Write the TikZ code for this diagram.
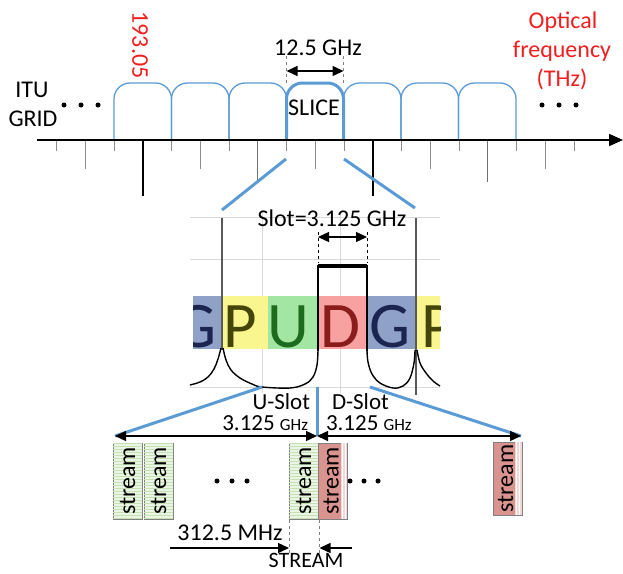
\documentclass[tikz,border=0pt]{standalone}
\usepackage{fontspec}
\setmainfont{Carlito}
\usetikzlibrary{arrows.meta,patterns}
\definecolor{sblue}{HTML}{5B9BD5}
\definecolor{tred}{HTML}{F01E1E}
\definecolor{tickgray}{HTML}{8C8C8C}
\definecolor{gridgray}{HTML}{D9D9D9}
\definecolor{bandG}{HTML}{8FA1C7}
\definecolor{bandP}{HTML}{FAF68F}
\definecolor{bandU}{HTML}{A3E6A3}
\definecolor{bandD}{HTML}{F7A1A1}
\definecolor{letG}{HTML}{1B2550}
\definecolor{letP}{HTML}{45450A}
\definecolor{letU}{HTML}{1D6B1D}
\definecolor{letD}{HTML}{8A1C1C}
\definecolor{gfill}{HTML}{EAF5E4}
\definecolor{gline}{HTML}{C5E0B4}
\definecolor{rfill}{HTML}{D99490}
\definecolor{rstrip}{HTML}{F2D8D6}
\begin{document}
\begin{tikzpicture}[x=1pt,y=-1pt,
  font=\fontsize{24}{29}\selectfont,
  every node/.style={inner sep=0pt, outer sep=0pt},
  slicepath/.style={sblue, line width=1.3pt, rounded corners=16pt},
  slicethick/.style={sblue, line width=3pt, rounded corners=16pt},
  shorttick/.style={tickgray, line width=0.9pt},
  blacktick/.style={black, line width=2pt},
  zoomline/.style={sblue, line width=3pt},
  dblarrow/.style={{Triangle[length=11pt,width=10pt]}-{Triangle[length=11pt,width=10pt]}, line width=1.3pt},
  onearrow/.style={-{Triangle[length=11pt,width=10pt]}, line width=1.3pt},
  gbox/.style={draw=gray, line width=0.8pt, fill=gfill, minimum width=29pt, minimum height=76pt,
    postaction={pattern=horizontal lines, pattern color=gline}},
  rbox/.style={draw=gray, line width=0.8pt, fill=rfill, minimum width=29pt, minimum height=76pt},
  dotc/.style={fill=black, circle, minimum size=5pt},
  biglet/.style={font=\fontsize{65}{65}\selectfont, anchor=base},
  smalltxt/.style={font=\fontsize{23}{27}\selectfont}
]
\useasboundingbox (0,0) rectangle (623,573);

% ---------------- ITU grid ----------------
\foreach \k in {0,2,...,18}{\draw[shorttick] (56.5+\k*28.75,140) -- (56.5+\k*28.75,151);}
\foreach \k in {1,5,9,13,17}{\draw[shorttick] (56.5+\k*28.75,140) -- (56.5+\k*28.75,169);}
\foreach \k in {7,15}{\draw[shorttick, tickgray!80!black] (56.5+\k*28.75,140) -- (56.5+\k*28.75,182);}
\foreach \k in {3,11}{\draw[blacktick] (56.5+\k*28.75,140) -- (56.5+\k*28.75,196);}

\foreach \a/\b in {114/171.5, 171.5/229, 229/286.5, 343.5/401, 401/458.5, 458.5/516}{
  \draw[slicepath] (\a,140) -- (\a,83) -- (\b,83) -- (\b,140);}
\draw[slicethick] (286.5,140) -- (286.5,83) -- (343.5,83) -- (343.5,140);

\coordinate (axs) at (37,140);
\coordinate (axe) at (623,140);
\draw[-{Triangle[length=14pt,width=12pt]}, line width=1.6pt] (axs) -- (axe);

\coordinate (sl) at (286.5,71);
\coordinate (sr) at (343.5,71);
\draw[gray, dashed, line width=0.8pt] (286.5,56) -- (286.5,83);
\draw[gray, dashed, line width=0.8pt] (343.5,56) -- (343.5,83);
\draw[dblarrow] (sl) -- (sr);
\node[anchor=base] (bw) at (318,55) {12.5 GHz};
\node[anchor=base] (slice) at (314,115) {SLICE};

\node[anchor=base] (itu) at (32,97) {ITU};
\node[anchor=base] (grid) at (33,126) {GRID};
\node[tred, rotate=-90] (f0) at (140,45) {193.05};
\node[anchor=base, text=tred] (opt1) at (563,28) {Optical};
\node[anchor=base, text=tred] (opt2) at (562,57) {frequency};
\node[anchor=base, text=tred] (opt3) at (562,86) {(THz)};

\foreach \x in {64,81,98}{\node[dotc] at (\x,105) {};}
\foreach \x in {542,559,576}{\node[dotc] at (\x,105) {};}

\coordinate (zl1) at (286,159);
\coordinate (zl2) at (222,210);
\coordinate (zr1) at (344,159);
\coordinate (zr2) at (415,208);
\draw[zoomline] (zl1) -- (zl2);
\draw[zoomline] (zr1) -- (zr2);

% ---------------- spectrum ----------------
\foreach \y in {217,259,387}{\draw[gridgray, line width=0.8pt] (190,\y) -- (440,\y);}
\foreach \x in {262,340}{\draw[gridgray, line width=0.8pt] (\x,213) -- (\x,393);}

\begin{scope}
\clip (193,296) rectangle (440,349);
\fill[bandG] (193,296) rectangle (222,349);
\fill[bandP] (222,296) rectangle (268,349);
\fill[bandU] (268,296) rectangle (317,349);
\fill[bandD] (317,296) rectangle (367,349);
\fill[bandG] (367,296) rectangle (415,349);
\fill[bandP] (415,296) rectangle (440,349);
\node[biglet, text=letG] at (196,347) {G};
\node[biglet, text=letP] at (240,347) {P};
\node[biglet, text=letU] at (288,347) {U};
\node[biglet, text=letD] at (340,347) {D};
\node[biglet, text=letG] at (390,347) {G};
\node[biglet, text=letP, anchor=base west] at (421,347) {P};
\end{scope}

\draw[black!65, line width=1.3pt] (222,218) -- (222,350);
\draw[black!65, line width=1.3pt] (416,218) -- (416,395);

\draw[black, line width=1.4pt] plot[smooth, tension=0.6] coordinates {(190,385) (200,382) (208,377) (214,369) (218,359) (221,348)};
\draw[black, line width=1.4pt] plot[smooth, tension=0.6] coordinates {(223,348) (226,360) (231,370) (240,378) (252,384) (262,387) (290,388) (305,384) (313,377) (317,365) (318,350)};
\draw[black, line width=1.4pt] (318,351) -- (318,266) -- (367,266) -- (367,351);
\draw[black, line width=4pt] (318,266) -- (367,266);
\draw[black, line width=1.4pt] plot[smooth, tension=0.6] coordinates {(367,350) (368,362) (372,374) (380,383) (393,388) (403,386) (410,378) (414,363) (415,350)};
\draw[black, line width=1.4pt] plot[smooth, tension=0.6] coordinates {(417,350) (420,363) (426,373) (433,381) (440,386)};

\draw[black, dashed, line width=0.8pt] (318,232) -- (318,263);
\draw[black, dashed, line width=0.8pt] (367,232) -- (367,263);
\coordinate (ssl) at (318,237);
\coordinate (ssr) at (367,237);
\draw[dblarrow] (ssl) -- (ssr);
\node[anchor=base] (slot) at (332,226) {Slot=3.125 GHz};

% ---------------- slots ----------------
\coordinate (ua) at (262,387);
\coordinate (ub) at (115,436);
\coordinate (ma) at (317,387);
\coordinate (mb) at (317,436);
\coordinate (da) at (370,387);
\coordinate (db) at (521,436);
\draw[zoomline] (ua) -- (ub);
\draw[zoomline] (ma) -- (mb);
\draw[zoomline] (da) -- (db);
\draw[dblarrow] (ub) -- (mb);
\draw[dblarrow] (mb) -- (db);

\node[smalltxt, anchor=base east] (us) at (310,409) {U-Slot};
\node[smalltxt, anchor=base east] (uv) at (308,430) {3.125 {\fontsize{17}{20}\selectfont GHz}};
\node[smalltxt, anchor=base west] (ds) at (332,409) {D-Slot};
\node[smalltxt, anchor=base west] (dv) at (326,430) {3.125 {\fontsize{17}{20}\selectfont GHz}};

% stream boxes
\node[gbox] (s1) at (127.5,481) {\rotatebox{90}{stream}};
\node[gbox] (s2) at (158.5,481) {\rotatebox{90}{stream}};
\node[gbox] (s3) at (303.5,481) {\rotatebox{90}{stream}};
\node[rbox] (r1) at (333,481) {};
\node[rbox, minimum height=73pt] (r2) at (507.5,478.5) {};
\foreach \r in {r1,r2}{
  \fill[rstrip] ([xshift=-7pt,yshift=-0.4pt]\r.north east) rectangle ([xshift=-0.4pt,yshift=0.4pt]\r.south east);
  \fill[pattern=vertical lines, pattern color=white] ([xshift=-7pt,yshift=-0.4pt]\r.north east) rectangle ([xshift=-0.4pt,yshift=0.4pt]\r.south east);
  \node[rotate=90] at ([xshift=-2pt]\r.center) {stream};
}

\foreach \x in {217,232,247}{\node[dotc] at (\x,481) {};}
\foreach \x in {350,364,378}{\node[dotc] at (\x,481) {};}

\coordinate (w1) at (289,520);
\coordinate (w1b) at (289,556);
\coordinate (w2) at (319.5,520);
\coordinate (w2b) at (319.5,556);
\draw[gray, dashed, line width=0.8pt] (w1) -- (w1b);
\draw[gray, dashed, line width=0.8pt] (w2) -- (w2b);
\coordinate (pa) at (170,548);
\coordinate (pb) at (289,548);
\coordinate (qa) at (352,548);
\coordinate (qb) at (319.5,548);
\draw[onearrow] (pa) -- (pb);
\draw[onearrow] (qa) -- (qb);
\node[anchor=base] (mhz) at (230,540) {312.5 MHz};
\node[anchor=base, font=\fontsize{22}{26}\selectfont] (strm) at (306,567) {STREAM};
\end{tikzpicture}
\end{document}
